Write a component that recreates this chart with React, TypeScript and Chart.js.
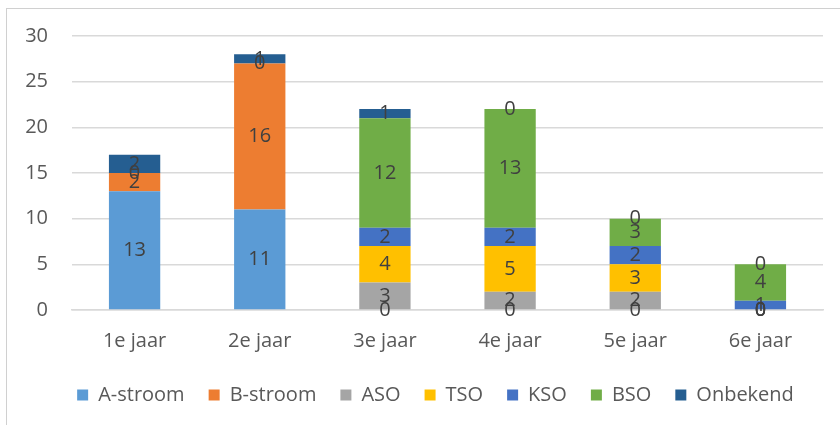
import React, { useEffect, useRef } from "react";
import { Chart, registerables } from "chart.js";

Chart.register(...registerables);

const categories = ["1e jaar", "2e jaar", "3e jaar", "4e jaar", "5e jaar", "6e jaar"];
const aStroom = [13, 11, 0, 0, 0, 0];
const bStroom = [2, 16, null, null, null, null];
const aso = [null, null, 3, 2, 2, 0];
const tso = [null, null, 4, 5, 3, 0];
const kso = [null, null, 2, 2, 2, 1];
const bso = [0, 0, 12, 13, 3, 4];
const onbekend = [2, 1, 1, 0, 0, 0];
const yTicks = [0, 5, 10, 15, 20, 25, 30];

const FONT = "'Open Sans', sans-serif";

const labelPlugin = {
  id: "barLabels",
  afterDatasetsDraw(chart: any) {
    const ctx = chart.ctx;
    ctx.save();
    ctx.font = `20px ${FONT}`;
    ctx.fillStyle = "#404040";
    ctx.textAlign = "center";
    ctx.textBaseline = "middle";
    chart.data.datasets.forEach((ds: any, di: number) => {
      const meta = chart.getDatasetMeta(di);
      meta.data.forEach((el: any, i: number) => {
        const v = ds.data[i];
        if (v === null || v === undefined) return;
        const y = (el.y + el.base) / 2;
        ctx.fillText(String(v), el.x, y);
      });
    });
    ctx.restore();
  },
};

const legendShift = {
  id: "legendShift",
  afterLayout(chart: any) {
    if (chart.legend) {
      chart.legend.left += 24;
      chart.legend.right += 24;
    }
  },
};

export default function App() {
  const ref = useRef<HTMLCanvasElement | null>(null);
  useEffect(() => {
    if (!ref.current) return;
    const mk = (label: string, data: any[], color: string) => ({
      label,
      data,
      backgroundColor: color,
      borderWidth: 0,
      barPercentage: 0.41,
      categoryPercentage: 1,
    });
    const chart = new Chart(ref.current, {
      type: "bar",
      data: {
        labels: categories,
        datasets: [
          mk("A-stroom", aStroom, "#5B9BD5"),
          mk("B-stroom", bStroom, "#ED7D31"),
          mk("ASO", aso, "#A5A5A5"),
          mk("TSO", tso, "#FFC000"),
          mk("KSO", kso, "#4472C4"),
          mk("BSO", bso, "#70AD47"),
          mk("Onbekend", onbekend, "#255E91"),
        ],
      },
      options: {
        animation: false,
        responsive: false,
        maintainAspectRatio: false,
        layout: { padding: { left: 0, right: 17, top: 26, bottom: 10 } },
        plugins: {
          tooltip: { enabled: false },
          legend: {
            position: "bottom",
            labels: {
              boxWidth: 11,
              boxHeight: 11,
              padding: 24,
              color: "#595959",
              font: { family: FONT, size: 20 },
            },
          },
        },
        scales: {
          x: {
            stacked: true,
            grid: { display: false, drawTicks: false },
            border: { display: true, color: "#d9d9d9", width: 1.5 },
            ticks: { color: "#595959", font: { family: FONT, size: 20 }, padding: 19 },
            afterFit: (scale: any) => {
              scale.height = 51;
            },
          },
          y: {
            stacked: true,
            min: 0,
            max: 30,
            afterBuildTicks: (scale: any) => {
              scale.ticks = yTicks.map((v) => ({ value: v }));
            },
            afterFit: (scale: any) => {
              scale.width = 72;
            },
            grid: { color: "#d9d9d9", lineWidth: 1.5, drawTicks: false },
            border: { display: false },
            ticks: { color: "#595959", font: { family: FONT, size: 20 }, padding: 24 },
          },
        },
      },
      plugins: [labelPlugin, legendShift],
    } as any);
    return () => chart.destroy();
  }, []);
  return (
    <div style={{ position: "absolute", left: 0, top: 0, width: 840, height: 425, background: "#fff", overflow: "hidden" }}>
      <div
        style={{
          position: "absolute",
          left: 6,
          top: 8,
          width: 840,
          height: 430,
          borderLeft: "1px solid #d0d0d0",
          borderTop: "1px solid #d0d0d0",
        }}
      />
      <canvas ref={ref} width={840} height={425} style={{ position: "absolute", left: 0, top: 0, width: 840, height: 425 }} />
    </div>
  );
}
